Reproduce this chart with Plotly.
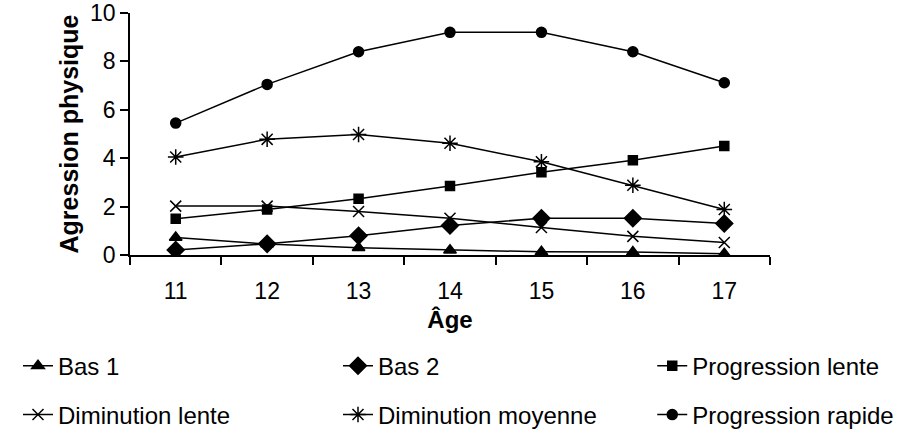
import plotly.graph_objects as go

ages = ["11", "12", "13", "14", "15", "16", "17"]
bas1 = [0.72, 0.45, 0.30, 0.20, 0.13, 0.12, 0.05]
bas2 = [0.21, 0.46, 0.80, 1.22, 1.52, 1.52, 1.30]
prog_lente = [1.50, 1.88, 2.32, 2.85, 3.42, 3.92, 4.50]
dim_lente = [2.02, 2.02, 1.80, 1.52, 1.14, 0.77, 0.52]
dim_moy = [4.05, 4.78, 4.98, 4.62, 3.85, 2.88, 1.88]
prog_rapide = [5.45, 7.05, 8.40, 9.20, 9.20, 8.40, 7.12]

series = [
    ("Bas 1", bas1, "triangle-up", 11),
    ("Bas 2", bas2, "diamond", 13),
    ("Progression lente", prog_lente, "square", 9),
    ("Diminution lente", dim_lente, "x-thin-open", 11),
    ("Diminution moyenne", dim_moy, "asterisk-open", 13),
    ("Progression rapide", prog_rapide, "circle", 10),
]

FONT = "Liberation Sans, Arial, sans-serif"

# legend grid: 3 columns x 2 rows (paper coords)
legend_x = [-0.175, 0.325, 0.816]
legend_y = [-0.459, -0.661]

fig = go.Figure()
legends = {}
for i, (name, vals, sym, sz) in enumerate(series):
    lg = "legend" if i == 0 else f"legend{i + 1}"
    fig.add_trace(go.Scatter(
        x=ages, y=vals, name=name, mode="lines+markers",
        line=dict(color="black", width=1.5),
        marker=dict(symbol=sym, size=sz, color="black",
                    line=dict(color="black", width=1.5)),
        legend=lg,
    ))
    legends[lg] = dict(
        x=legend_x[i % 3], y=legend_y[i // 3],
        xanchor="left", yanchor="middle", orientation="h",
        font=dict(family=FONT, size=24, color="black"),
        bgcolor="rgba(0,0,0,0)", borderwidth=0, itemwidth=30,
    )

fig.update_layout(
    width=910, height=432,
    margin=dict(l=130, r=140, t=13, b=177, autoexpand=False),
    paper_bgcolor="white", plot_bgcolor="white",
    font=dict(family=FONT, size=23, color="black"),
    showlegend=True,
    xaxis=dict(
        type="category", range=[-0.5, 6.5],
        showline=True, linecolor="black", linewidth=1.5,
        ticks="outside", ticklen=8, tickcolor="black", tickwidth=1.5,
        tickson="boundaries", showgrid=False, zeroline=False,
        ticklabelstandoff=15, automargin=False,
        tickfont=dict(family=FONT, size=23, color="black"),
        title=dict(text="<b>Âge</b>", font=dict(family=FONT, size=24, color="black"),
                   standoff=8),
    ),
    yaxis=dict(
        range=[0, 10], dtick=2,
        showline=True, linecolor="black", linewidth=1.5,
        ticks="outside", ticklen=8, tickcolor="black", tickwidth=1.5,
        showgrid=False, zeroline=False, automargin=False,
        tickfont=dict(family=FONT, size=23, color="black"),
        title=dict(text="<b>Agression physique</b>",
                   font=dict(family=FONT, size=25, color="black"), standoff=4),
    ),
    **legends,
)

fig.write_html("out.html", config={"displayModeBar": False},
               post_script="document.body.style.margin='0';")
